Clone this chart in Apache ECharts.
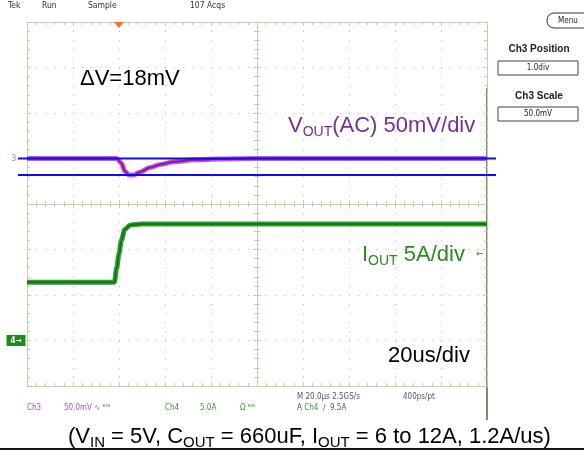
<!DOCTYPE html>
<html><head><meta charset="utf-8">
<script src="https://cdn.jsdelivr.net/npm/echarts@6/dist/echarts.min.js"></script>
<style>html,body{margin:0;padding:0;background:#fff;}#c{width:584px;height:454px;}</style>
</head><body><div id="c"></div>
<script>
// ---- scope settings ----
const timeMin = -40, timeMax = 160, timePerDiv = 20;   // µs, trigger at 0
const divMin = -4, divMax = 4;
const ch3PositionDiv = 1.0, ch3ScaleMv = 50;
const ch4PositionDiv = -3.0, ch4ScaleA = 5;
const triggerLevelA = 9.5;
// ---- Ch3: Vout (AC) deviation, mV ----
const voutTime = [-40, -1, 1, 2.6, 4.3, 6.5, 9, 13.5, 18, 24, 33, 44, 57, 160];
const voutMv   = [0, 0, -5, -14, -18, -18, -15, -10, -6.5, -3.5, -1.5, -0.5, 0, 0];
// ---- Ch4: Iout, A ----
const ioutTime = [-40, -2, -1, 0, 1, 2.5, 5, 10, 160];
const ioutA    = [6.4, 6.4, 8.0, 9.5, 11.0, 12.2, 12.7, 12.8, 12.8];
// ---- cursors (mV) ----
const cursorMv = [0, -18];

const gratColor = '#cfc9a8', dotColor = '#b0b0a4';
const vDiv = v => ch3PositionDiv + v / ch3ScaleMv;
const iDiv = a => ch4PositionDiv + a / ch4ScaleA;

function xAx(pos, offset, inside, showLine, showSplit) {
  return { type:'value', gridIndex:0, min:timeMin, max:timeMax, interval:timePerDiv, position:pos, offset:offset,
    axisLine:{show:showLine, onZero:false, lineStyle:{color:gratColor, width:1}},
    axisTick:{show:true, inside:inside, length:4, lineStyle:{color:gratColor}},
    minorTick:{show:true, splitNumber:5, length:3, lineStyle:{color:gratColor}},
    axisLabel:{show:false},
    splitLine:{show:showSplit, lineStyle:{color:dotColor, width:1, type:[1, 8.1]}} };
}
function yAx(pos, offset, inside, showLine, showSplit) {
  return { type:'value', gridIndex:0, min:divMin, max:divMax, interval:1, position:pos, offset:offset,
    axisLine:{show:showLine, onZero:false, lineStyle:{color:gratColor, width:1}},
    axisTick:{show:true, inside:inside, length:4, lineStyle:{color:gratColor}},
    minorTick:{show:true, splitNumber:5, length:3, lineStyle:{color:gratColor}},
    axisLabel:{show:false},
    splitLine:{show:showSplit, lineStyle:{color:dotColor, width:1, type:[1, 8.2]}} };
}

const F = 'Liberation Sans, Arial, sans-serif';
const SF = 'DejaVu Sans Condensed, Liberation Sans, sans-serif';

function rich(parts, big, sub, color, pad) {
  return {
    text: parts.map((p, i) => (i % 2 ? '{s|' : '{a|') + p + '}').join(''),
    rich: {
      a: {fontSize:big, fontFamily:F, fill:color, lineHeight:big + 2, verticalAlign:'top'},
      s: {fontSize:sub, fontFamily:F, fill:color, lineHeight:sub, verticalAlign:'bottom', padding:[pad,0,0,0]}
    }
  };
}
function txt(x, y, s, size, color, opts) {
  return {type:'text', x:x, y:y, style:Object.assign({text:s, fontSize:size, fontFamily:SF, fill:color, verticalAlign:'middle', align:'left'}, opts||{})};
}

const chart = echarts.init(document.getElementById('c'), null, {renderer:'canvas'});
chart.setOption({
  animation:false,
  backgroundColor:'#ffffff',
  grid:[
    {left:27, top:22, width:460, height:364, show:false},
    {left:18, top:22, width:478, height:364, show:false}
  ],
  xAxis:[
    xAx('bottom', 0, true, true, true),
    xAx('top', 0, true, true, false),
    xAx('bottom', -182, true, true, false),
    xAx('bottom', -182, false, false, false),
    {type:'value', gridIndex:1, min:0, max:1, show:false}
  ],
  yAxis:[
    yAx('left', 0, true, true, true),
    yAx('right', 0, true, true, false),
    yAx('left', -230, true, true, false),
    yAx('left', -230, false, false, false),
    {type:'value', gridIndex:1, min:divMin, max:divMax, show:false}
  ],
  series:[
    {type:'line', name:'Vout band', xAxisIndex:0, yAxisIndex:0, symbol:'none', smooth:0.3, smoothMonotone:'x',
      data: voutTime.map((t, i) => [t, vDiv(voutMv[i])]),
      lineStyle:{color:'#c05ad0', width:5}, z:3,
      markPoint:{symbol:'none', data:[
        {coord:[timeMin, ch3PositionDiv], symbol:'rect', symbolSize:1, itemStyle:{color:'rgba(0,0,0,0)'},
         label:{show:true, formatter:'3', position:'left', distance:10, color:'#c878d0', fontSize:9, fontFamily:SF}},
        {coord:[0, divMax], symbol:'triangle', symbolRotate:180, symbolSize:[10,6], symbolOffset:[0,3],
         itemStyle:{color:'#ff7010'}, label:{show:false}}
      ]}},
    {type:'line', name:'Vout', xAxisIndex:0, yAxisIndex:0, symbol:'none', smooth:0.3, smoothMonotone:'x',
      data: voutTime.map((t, i) => [t, vDiv(voutMv[i])]),
      lineStyle:{color:'#8a1898', width:2}, z:4},
    {type:'line', name:'Iout band', xAxisIndex:0, yAxisIndex:0, symbol:'none', smooth:0.3, smoothMonotone:'x',
      data: ioutTime.map((t, i) => [t, iDiv(ioutA[i])]),
      lineStyle:{color:'#2ea02e', width:5}, z:3,
      markPoint:{symbol:'none', data:[
        {coord:[timeMin, ch4PositionDiv], symbol:'rect', symbolSize:[19,11], symbolOffset:[-11,0],
         itemStyle:{color:'#1f8a1f'},
         label:{show:true, formatter:'4\u2192', position:'inside', color:'#fff', fontSize:8, fontFamily:SF, fontWeight:'bold'}},
        {coord:[timeMax, iDiv(triggerLevelA)], symbol:'rect', symbolSize:1, itemStyle:{color:'rgba(0,0,0,0)'},
         label:{show:true, formatter:'\u2190', position:'left', distance:3, color:'#2a9a2a', fontSize:10, fontFamily:SF}}
      ]}},
    {type:'line', name:'Iout', xAxisIndex:0, yAxisIndex:0, symbol:'none', smooth:0.3, smoothMonotone:'x',
      data: ioutTime.map((t, i) => [t, iDiv(ioutA[i])]),
      lineStyle:{color:'#127612', width:2}, z:4},
    ...cursorMv.map(mv => ({type:'line', xAxisIndex:4, yAxisIndex:4, symbol:'none', z:6,
      data:[[0, vDiv(mv)], [1, vDiv(mv)]], lineStyle:{color:'#0a0aff', width:2}}))
  ],
  graphic:[
    txt(8, 6, 'Tek', 8.5, '#333'),
    txt(42, 6, 'Run', 8.5, '#333'),
    txt(88, 6, 'Sample', 8.5, '#333'),
    txt(190, 6, '107 Acqs', 8.5, '#333'),
    {type:'rect', shape:{x:547, y:13, width:46, height:15, r:7}, style:{fill:'none', stroke:'#333', lineWidth:1}},
    txt(568, 21, 'Menu', 8, '#222', {align:'center'}),
    txt(539, 49, 'Ch3 Position', 10, '#222', {align:'center', fontWeight:'bold', fontFamily:F}),
    {type:'rect', shape:{x:498, y:61, width:80, height:14}, style:{fill:'#fff', stroke:'#444', lineWidth:1}},
    txt(538, 68, '1.0div', 8, '#222', {align:'center'}),
    txt(539, 96, 'Ch3 Scale', 10, '#222', {align:'center', fontWeight:'bold', fontFamily:F}),
    {type:'rect', shape:{x:498, y:107, width:80, height:14}, style:{fill:'#fff', stroke:'#444', lineWidth:1}},
    txt(538, 114, '50.0mV', 8, '#222', {align:'center'}),
    {type:'line', shape:{x1:487, y1:88, x2:487, y2:420}, style:{stroke:'#5c5c4c', lineWidth:1.5}},
    {type:'line', shape:{x1:0, y1:449, x2:584, y2:449}, style:{stroke:'#111', lineWidth:2}},
    txt(27, 408, 'Ch3', 8, '#b050c0'),
    txt(64, 408, '50.0mV \u223F \u1D2Eᵂ', 8, '#b050c0'),
    txt(165, 408, 'Ch4', 8, '#3a9a3a'),
    txt(200, 408, '5.0A', 8, '#3a9a3a'),
    txt(240, 408, '\u03A9 \u1D2Eᵂ', 8, '#3a9a3a'),
    txt(297, 397, 'M 20.0\u00B5s 2.5GS/s', 8, '#555'),
    txt(403, 397, '400ps/pt', 8, '#555'),
    {type:'text', x:297, y:408, style:{text:'{g|A }{c|Ch4}{g|  \u2215  9.5A}', verticalAlign:'middle',
      rich:{g:{fontSize:8, fontFamily:SF, fill:'#555'}, c:{fontSize:8, fontFamily:SF, fill:'#3a9a3a'}}}},
    {type:'text', x:80, y:68, style:{text:'\u0394V=18mV', fontSize:22, fontFamily:F, fill:'#000'}},
    {type:'text', x:288, y:115, style:rich(['V','OUT','(AC) 50mV/div'], 22, 14, '#7030a0', 14.5)},
    {type:'text', x:362, y:244, style:rich(['I','OUT',' 5A/div'], 22, 14, '#2a8a22', 14.5)},
    {type:'text', x:388, y:345, style:{text:'20us/div', fontSize:22, fontFamily:F, fill:'#000'}},
    {type:'text', x:68, y:426, style:rich(['(V','IN',' = 5V, C','OUT',' = 660uF, I','OUT',' = 6 to 12A, 1.2A/us)'], 22, 15, '#000', 9)}
  ]
});
</script></body></html>
